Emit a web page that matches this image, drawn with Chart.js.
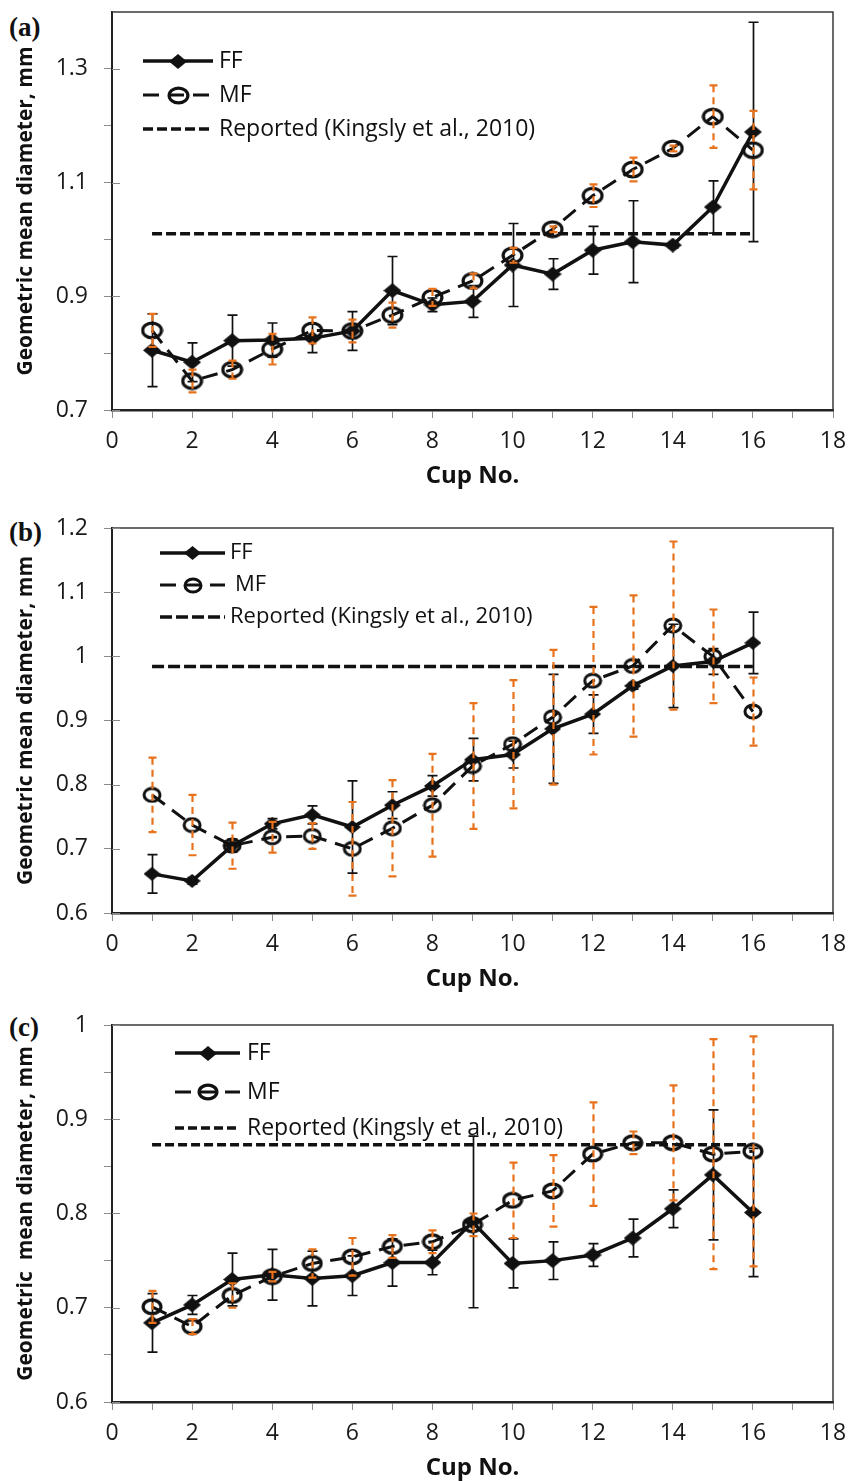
<!DOCTYPE html>
<html><head><meta charset="utf-8">
<script src="https://cdn.jsdelivr.net/npm/chart.js@4.4.1/dist/chart.umd.min.js"></script>
<style>
html,body{margin:0;padding:0;background:#fff;}
body{width:853px;height:1481px;position:relative;overflow:hidden;}
canvas{position:absolute;left:0;}
.pl{position:absolute;left:9px;font-family:'Liberation Serif','Times New Roman',serif;font-weight:bold;font-size:27px;line-height:30px;color:#111;}
</style></head><body>
<div class="pl" style="top:12px">(a)</div>
<div class="pl" style="top:517px">(b)</div>
<div class="pl" style="top:1012px">(c)</div>
<canvas id="ca" width="853" height="490" style="top:0"></canvas>
<canvas id="cb" width="853" height="503" style="top:490px"></canvas>
<canvas id="cc" width="853" height="488" style="top:993px"></canvas>
<script>
// ---------------- DATA ----------------
const cups = [1,2,3,4,5,6,7,8,9,10,11,12,13,14,15,16];
const xAllTicks = [0,1,2,3,4,5,6,7,8,9,10,11,12,13,14,15,16,17,18];
const xTickLabels = [0,2,4,6,8,10,12,14,16,18];

// (a)
const ffA    = [0.805,0.784,0.822,0.823,0.826,0.839,0.910,0.885,0.891,0.955,0.939,0.981,0.996,0.990,1.057,1.189];
const ffAErr = [0.064,0.034,0.045,0.030,0.025,0.034,0.060,0.012,0.028,0.073,0.027,0.042,0.072,0.005,0.046,0.193];
const mfA    = [0.840,0.751,0.771,0.807,0.840,0.839,0.867,0.898,0.927,0.972,1.018,1.077,1.123,1.160,1.216,1.157];
const mfAErr = [0.029,0.020,0.016,0.027,0.023,0.020,0.022,0.015,0.013,0.013,0.005,0.020,0.021,0.005,0.055,0.069];
const repA = 1.01;
const yTicksA = [0.7,0.8,0.9,1.0,1.1,1.2,1.3];
const yLabelsA = [0.7,0.9,1.1,1.3];

// (b)
const ffB    = [0.661,0.650,0.705,0.739,0.753,0.734,0.768,0.798,0.839,0.847,0.887,0.910,0.954,0.985,0.992,1.021];
const ffBErr = [0.030,0.005,0.010,0.008,0.014,0.072,0.021,0.016,0.033,0.021,0.085,0.030,0.005,0.065,0.020,0.048];
const mfB    = [0.784,0.737,0.705,0.718,0.720,0.700,0.732,0.768,0.829,0.863,0.905,0.962,0.985,1.048,1.000,0.914];
const mfBErr = [0.058,0.047,0.036,0.024,0.020,0.073,0.075,0.080,0.098,0.100,0.105,0.115,0.110,0.131,0.073,0.053];
const repB = 0.984;
const yTicksB = [0.6,0.7,0.8,0.9,1.0,1.1,1.2];
const yLabelsB = [0.6,0.7,0.8,0.9,1.0,1.1,1.2];

// (c)
const ffC    = [0.684,0.703,0.730,0.735,0.731,0.734,0.748,0.748,0.791,0.747,0.750,0.756,0.774,0.805,0.841,0.801];
const ffCErr = [0.031,0.010,0.028,0.027,0.029,0.021,0.025,0.013,0.091,0.026,0.020,0.012,0.020,0.020,0.069,0.068];
const mfC    = [0.701,0.680,0.713,0.733,0.747,0.754,0.765,0.770,0.788,0.814,0.824,0.863,0.875,0.875,0.863,0.866];
const mfCErr = [0.017,0.008,0.013,0.005,0.015,0.020,0.012,0.012,0.012,0.040,0.038,0.055,0.012,0.061,0.122,0.122];
const repC = 0.873;
const yTicksC = [0.6,0.65,0.7,0.75,0.8,0.85,0.9,0.95,1.0];
const yLabelsC = [0.6,0.7,0.8,0.9,1.0];

// ---------------- STYLE HELPERS ----------------
const INK = '#111';
const ORANGE = '#E8721C';
function makeDiamond(w,h){const c=document.createElement('canvas');c.width=w;c.height=h;const g=c.getContext('2d');g.fillStyle=INK;g.beginPath();g.moveTo(w/2,0);g.lineTo(w,h/2);g.lineTo(w/2,h);g.lineTo(0,h/2);g.closePath();g.fill();return c;}
function makeRing(w,h,lw){const c=document.createElement('canvas');c.width=w;c.height=h;const g=c.getContext('2d');g.strokeStyle=INK;g.lineWidth=lw;g.beginPath();g.ellipse(w/2,h/2,w/2-lw/2-0.5,h/2-lw/2-0.5,0,0,Math.PI*2);g.stroke();return c;}
const yTitleFont = {family:'"Open Sans"',size:21,weight:'bold',lineHeight:1};
const tickFont = {family:'"Open Sans"',size:23,lineHeight:1.2};
const xTitleFont = {family:'"Open Sans"',size:24,weight:'bold',lineHeight:1};

const xy = (xs,ys)=>xs.map((x,i)=>({x:x,y:ys[i]}));
const fmt = v=>String(+v.toFixed(2));

// ---------------- PLUGINS ----------------
const errorBars = {id:'errorBars',afterDatasetsDraw(chart){
  const {ctx,scales:{x,y}} = chart;
  chart.data.datasets.forEach(ds=>{
    if(!ds.errors) return;
    ctx.save();
    ctx.strokeStyle = ds.errorColor; ctx.lineWidth = ds.errorWidth;
    ds.data.forEach((p,i)=>{
      const e = ds.errors[i];
      const px = Math.round(x.getPixelForValue(p.x))+0.5;
      const yt = y.getPixelForValue(p.y+e), yb = y.getPixelForValue(p.y-e);
      ctx.setLineDash(ds.errorDash||[]);
      ctx.beginPath(); ctx.moveTo(px,yt); ctx.lineTo(px,yb); ctx.stroke();
      ctx.setLineDash([]);
      const c = ds.errorCap;
      ctx.beginPath(); ctx.moveTo(px-c,yt); ctx.lineTo(px+c,yt); ctx.moveTo(px-c,yb); ctx.lineTo(px+c,yb); ctx.stroke();
    });
    ctx.restore();
  });
}};
const frame = {id:'frame',beforeDatasetsDraw(chart,args,opts){
  const {ctx,chartArea:a} = chart;
  ctx.save();
  ctx.strokeStyle='#3a3a3a'; ctx.lineWidth=1.5;
  ctx.beginPath(); ctx.moveTo(a.left,a.top); ctx.lineTo(a.right,a.top); ctx.lineTo(a.right,a.bottom); ctx.stroke();
  ctx.strokeStyle='#8a8a8a'; ctx.lineWidth=1;
  (opts.inTicks||[]).forEach(v=>{const py=Math.round(chart.scales.y.getPixelForValue(v))+0.5;ctx.beginPath();ctx.moveTo(a.left,py);ctx.lineTo(a.left+8,py);ctx.stroke();});
  ctx.restore();
}};
const boxLegend = {id:'boxLegend',afterDraw(chart,args,opts){
  const ctx = chart.ctx;
  chart.data.datasets.forEach((ds,i)=>{
    const y = opts.ys[i];
    ctx.save();
    ctx.strokeStyle = ds.borderColor; ctx.lineWidth = ds.borderWidth;
    ctx.setLineDash(ds.borderDash||[]);
    ctx.beginPath(); ctx.moveTo(opts.x1,y); ctx.lineTo(opts.x2,y); ctx.stroke();
    ctx.setLineDash([]);
    if (ds.pointRadius>0 && ds.pointStyle && typeof ds.pointStyle==='object'){
      const img = ds.pointStyle; ctx.drawImage(img,Math.round((opts.x1+opts.x2)/2-img.width/2),Math.round(y-img.height/2));
    }
    ctx.fillStyle = INK; ctx.font = opts.font; ctx.textBaseline='middle'; ctx.textAlign='left';
    ctx.fillText(ds.label, opts.tx + (opts.dx?opts.dx[i]:0), y);
    ctx.restore();
  });
}};

// ---------------- BUILD ----------------
function build(id, p){
  const datasets = [
    {label:'FF', data:xy(cups,p.ff), borderColor:INK, borderWidth:3.5, pointStyle:p.diamond, pointRadius:8, tension:0,
     errors:p.ffErr, errorColor:INK, errorWidth:1.7, errorCap:5, errorDash:[]},
    {label:'MF', data:xy(cups,p.mf), borderColor:INK, borderWidth:3, borderDash:p.mfDash, pointStyle:p.ring, pointRadius:9, tension:0,
     errors:p.mfErr, errorColor:ORANGE, errorWidth:2.2, errorCap:4, errorDash:[7,5]},
    {label:'Reported (Kingsly et al., 2010)', data:xy([cups[0],cups[cups.length-1]],[p.rep,p.rep]), borderColor:INK, borderWidth:3.5, borderDash:p.repDash, pointRadius:0, tension:0}
  ];
  return new Chart(document.getElementById(id),{
    type:'line',
    data:{datasets},
    plugins:[frame,errorBars,boxLegend],
    options:{
      responsive:false, animation:false, events:[],
      layout:{padding:{left:0,right:20,top:p.top,bottom:0}},
      plugins:{legend:{display:false},tooltip:{enabled:false},
        frame:{inTicks:p.yLabels},
        boxLegend:p.legend},
      scales:{
        x:{type:'linear',min:0,max:18,
          afterBuildTicks:s=>{s.ticks=xAllTicks.map(v=>({value:v}));},
          afterFit:s=>{s.height=p.xh;s.paddingLeft=0;s.paddingRight=0;},
          ticks:{autoSkip:false,maxRotation:0,minRotation:0,padding:10,font:tickFont,color:'#1a1a1a',
            callback:v=>xTickLabels.includes(v)?String(v):''},
          grid:{display:true,drawOnChartArea:false,drawTicks:true,tickLength:8,color:'#8a8a8a',lineWidth:1},
          border:{display:true,color:'#222',width:2.5},
          title:{display:true,text:'Cup No.',font:xTitleFont,color:INK,padding:{top:0,bottom:p.xh-66-12}}
        },
        y:{type:'linear',min:p.ymin,max:p.ymax,
          afterBuildTicks:s=>{s.ticks=p.yTicks.map(v=>({value:v}));},
          afterFit:s=>{s.width=112;s.paddingTop=0;s.paddingBottom=0;},
          ticks:{autoSkip:false,padding:16,font:tickFont,color:'#1a1a1a',
            callback:v=>p.yLabels.some(l=>Math.abs(l-v)<1e-6)?fmt(v):''},
          grid:{display:true,drawOnChartArea:false,drawTicks:true,tickLength:8,color:'#8a8a8a',lineWidth:1},
          border:{display:true,color:'#222',width:2},
          title:{display:true,text:p.yTitle,font:yTitleFont,color:INK,padding:{top:26-yTitleFont.size/2,bottom:0}}
        }
      }
    }
  });
}

build('ca',{ff:ffA,ffErr:ffAErr,mf:mfA,mfErr:mfAErr,rep:repA,ymin:0.7,ymax:1.4,yTicks:yTicksA,yLabels:yLabelsA,
  top:6,xh:80,diamond:makeDiamond(18,15),ring:makeRing(23,19,3.2),mfDash:[16,9],repDash:[10,4],
  yTitle:'Geometric mean diameter, mm',
  legend:{x1:143,x2:213,tx:219,ys:[61,95,129],font:'23px "Open Sans"'}});
build('cb',{ff:ffB,ffErr:ffBErr,mf:mfB,mfErr:mfBErr,rep:repB,ymin:0.6,ymax:1.2,yTicks:yTicksB,yLabels:yLabelsB,
  top:38,xh:80,diamond:makeDiamond(17,14),ring:makeRing(20,17,3),mfDash:[16,9],repDash:[12,4],
  yTitle:'Geometric mean diameter, mm',
  legend:{x1:160,x2:225,tx:230,dx:[0,5,0],ys:[63,95,127],font:'22px "Open Sans"'}});
build('cc',{ff:ffC,ffErr:ffCErr,mf:mfC,mfErr:mfCErr,rep:repC,ymin:0.6,ymax:1.0,yTicks:yTicksC,yLabels:yLabelsC,
  top:32,xh:79,diamond:makeDiamond(18,15),ring:makeRing(22,18,3.2),mfDash:[16,9],repDash:[9,4],
  yTitle:'Geometric  mean diameter, mm',
  legend:{x1:175,x2:240,tx:247,ys:[60,99,135],font:'23px "Open Sans"'}});
</script>
</body></html>
